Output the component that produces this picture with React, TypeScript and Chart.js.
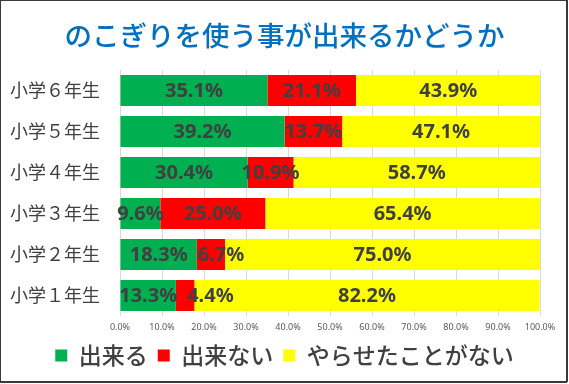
import React, { useEffect, useRef } from "react";
import { Chart, registerables } from "chart.js";

Chart.register(...registerables);

const title = "のこぎりを使う事が出来るかどうか";
const categories = ["小学６年生", "小学５年生", "小学４年生", "小学３年生", "小学２年生", "小学１年生"];
const seriesNames = ["出来る", "出来ない", "やらせたことがない"];
const canDo = [35.1, 39.2, 30.4, 9.6, 18.3, 13.3];
const cannotDo = [21.1, 13.7, 10.9, 25.0, 6.7, 4.4];
const neverTried = [43.9, 47.1, 58.7, 65.4, 75.0, 82.2];
const seriesColors = ["#00B050", "#FF0000", "#FFFF00"];

const framePlugin = {
  id: "frame",
  beforeDraw(chart: any) {
    const { ctx, width, height } = chart;
    ctx.save();
    ctx.fillStyle = "#ffffff";
    ctx.fillRect(0, 0, width, height);
    ctx.restore();
  },
  afterDraw(chart: any) {
    const { ctx, width, height } = chart;
    ctx.save();
    ctx.fillStyle = "#3a3a3a";
    ctx.fillRect(0, 0, width - 2, 1);
    ctx.fillRect(0, 0, 1, height - 2);
    ctx.fillRect(width - 3, 0, 2, height - 2);
    ctx.fillRect(0, height - 3, width - 2, 2);
    ctx.restore();
  },
};

const labelPlugin = {
  id: "segLabels",
  afterDatasetsDraw(chart: any) {
    const { ctx } = chart;
    ctx.save();
    ctx.font = "bold 20px 'Noto Sans', 'DejaVu Sans', sans-serif";
    ctx.fillStyle = "#404040";
    ctx.textAlign = "left";
    ctx.textBaseline = "middle";
    const n = chart.data.labels.length;
    for (let i = 0; i < n; i++) {
      let prevRight = -Infinity;
      chart.data.datasets.forEach((ds: any, di: number) => {
        const meta = chart.getDatasetMeta(di);
        const el: any = meta.data[i];
        if (!el) return;
        const v = ds.data[i];
        const text = v.toFixed(1) + "%";
        const w = ctx.measureText(text).width;
        const cx = (el.x + el.base) / 2;
        let left = cx - w / 2;
        if (left < prevRight + 10) left = prevRight + 10;
        ctx.fillText(text, left, el.y + 1);
        prevRight = left + w;
      });
    }
    ctx.restore();
  },
};

export default function App() {
  const ref = useRef<HTMLCanvasElement>(null);
  useEffect(() => {
    document.body.style.margin = "0";
    const chart = new Chart(ref.current as HTMLCanvasElement, {
      type: "bar",
      data: {
        labels: categories,
        datasets: [canDo, cannotDo, neverTried].map((d, i) => ({
          label: seriesNames[i],
          data: d,
          backgroundColor: seriesColors[i],
          borderWidth: 0,
          categoryPercentage: 1,
          barPercentage: 0.756,
        })),
      },
      options: {
        indexAxis: "y",
        responsive: false,
        maintainAspectRatio: false,
        animation: false,
        events: [],
        layout: { padding: { top: 0, left: 0, right: 0, bottom: 7 } },
        scales: {
          x: {
            stacked: true,
            min: 0,
            max: 100,
            ticks: {
              stepSize: 10,
              padding: 6,
              color: "#595959",
              font: { size: 9, family: "'Noto Sans', sans-serif" },
              callback: (v: any) => Number(v).toFixed(1) + "%",
              maxRotation: 0,
            },
            grid: { color: "#D9D9D9", drawTicks: false },
            border: { display: false },
            afterFit: (s: any) => {
              s.height = 18;
            },
          },
          y: {
            stacked: true,
            ticks: {
              padding: 20,
              color: "#404040",
              font: { size: 18, family: "'Noto Sans CJK JP', sans-serif" },
            },
            grid: { display: false, drawTicks: false },
            border: { display: false },
            afterFit: (s: any) => {
              s.width = 120;
            },
          },
          yRight: {
            type: "category",
            axis: "y",
            position: "right",
            display: true,
            ticks: { display: false },
            grid: { display: false, drawTicks: false },
            border: { display: false },
            afterFit: (s: any) => {
              s.width = 29;
            },
          },
        },
        plugins: {
          title: {
            display: true,
            text: title,
            color: "#0070C0",
            font: { size: 27.5, family: "'Noto Sans CJK JP', sans-serif", weight: "500", lineHeight: 1.2 },
            padding: { top: 19, bottom: 18 },
          },
          legend: {
            display: true,
            position: "bottom",
            labels: {
              boxWidth: 12,
              boxHeight: 12,
              padding: 10,
              color: "#404040",
              font: { size: 23, family: "'Noto Sans CJK JP', sans-serif", weight: "500" },
            },
          },
          tooltip: { enabled: false },
        },
      },
      plugins: [framePlugin, labelPlugin],
    } as any);
    return () => chart.destroy();
  }, []);
  return <canvas ref={ref} width={569} height={384} style={{ display: "block" }} />;
}
